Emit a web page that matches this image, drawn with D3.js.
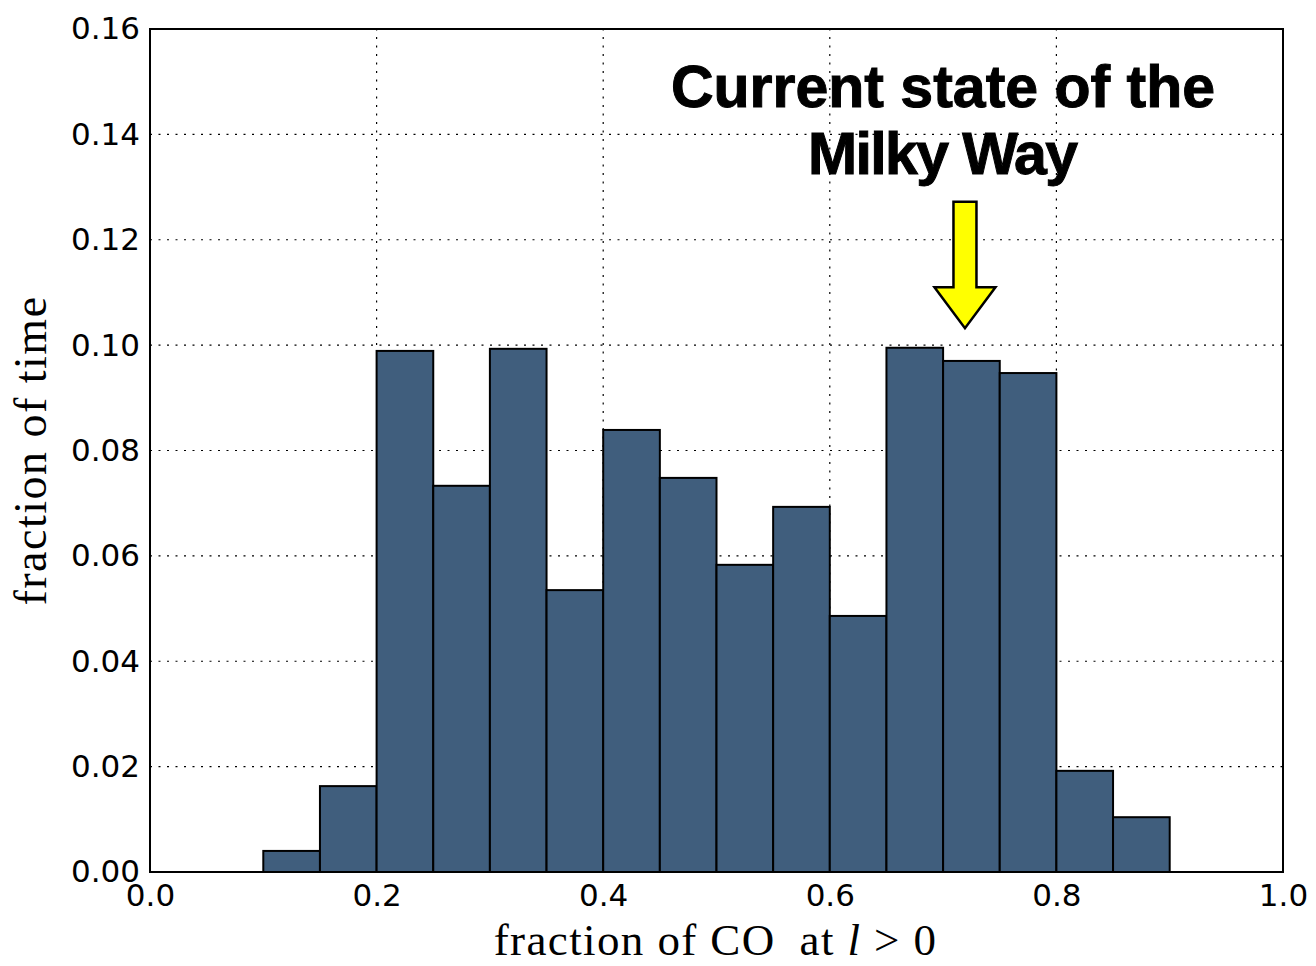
<!DOCTYPE html>
<html>
<head>
<meta charset="utf-8">
<script src="https://cdn.jsdelivr.net/npm/d3@7"></script>
<style>
  html, body { margin: 0; padding: 0; background: #fff; }
  svg { display: block; }
</style>
</head>
<body>
<svg id="chart" width="1316" height="966"></svg>
<script>
// Histogram bins (left edges, width 0.05) and the fraction of time in each
const binStarts = [0.10, 0.15, 0.20, 0.25, 0.30, 0.35, 0.40, 0.45, 0.50, 0.55, 0.60, 0.65, 0.70, 0.75, 0.80, 0.85];
const binWidth = 0.05;
const fractions = [0.0040, 0.0163, 0.0989, 0.0733, 0.0993, 0.0535, 0.0839, 0.0748, 0.0583, 0.0693, 0.0486, 0.0995, 0.0970, 0.0947, 0.0192, 0.0104];

const xTicks = [0.0, 0.2, 0.4, 0.6, 0.8, 1.0];
const yTicks = [0.00, 0.02, 0.04, 0.06, 0.08, 0.10, 0.12, 0.14, 0.16];

// Annotation: text lines and arrow (data coordinates)
const noteLines = ["Current state of the", "Milky Way"];
const arrowTip = [0.7193, 0.1032];
const arrowTail = [0.7193, 0.1272];

const margin = { left: 150, top: 29, right: 33, bottom: 94 };
const W = 1316, H = 966;
const svg = d3.select("#chart");

const x = d3.scaleLinear().domain([0, 1]).range([margin.left, W - margin.right]);
const y = d3.scaleLinear().domain([0, 0.16]).range([H - margin.bottom, margin.top]);

// Grid lines
const grid = svg.append("g").attr("stroke", "#000").attr("stroke-width", 1.2)
  .attr("stroke-dasharray", "2,6.5");
grid.selectAll("line.gx").data(xTicks.slice(1, -1)).join("line")
  .attr("x1", d => x(d)).attr("x2", d => x(d))
  .attr("y1", y(0)).attr("y2", y(0.16));
grid.selectAll("line.gy").data(yTicks.slice(1, -1)).join("line")
  .attr("x1", x(0)).attr("x2", x(1))
  .attr("y1", d => y(d)).attr("y2", d => y(d));

// Bars
svg.append("g").selectAll("rect").data(binStarts).join("rect")
  .attr("x", d => x(d))
  .attr("width", d => x(d + binWidth) - x(d))
  .attr("y", (d, i) => y(fractions[i]))
  .attr("height", (d, i) => y(0) - y(fractions[i]))
  .attr("fill", "#405e7d")
  .attr("stroke", "#000")
  .attr("stroke-width", 2);

// Frame
svg.append("rect")
  .attr("x", x(0)).attr("y", y(0.16))
  .attr("width", x(1) - x(0)).attr("height", y(0) - y(0.16))
  .attr("fill", "none").attr("stroke", "#000").attr("stroke-width", 2);

// Tick labels
const tickFont = "'DejaVu Sans', sans-serif";
const xAxis = d3.axisBottom(x).tickValues(xTicks).tickFormat(d3.format(".1f")).tickSize(0).tickPadding(12);
const xg = svg.append("g").attr("transform", `translate(0,${y(0)})`).call(xAxis);
const yAxis = d3.axisLeft(y).tickValues(yTicks).tickFormat(d3.format(".2f")).tickSize(0).tickPadding(10);
const yg = svg.append("g").attr("transform", `translate(${x(0)},0)`).call(yAxis);
[xg, yg].forEach(g => {
  g.select(".domain").remove();
  g.selectAll("text").attr("font-family", tickFont).attr("font-size", 31).attr("fill", "#000");
});

// Axis titles
const serif = "'Liberation Serif', 'DejaVu Serif', serif";
const xl = svg.append("text")
  .attr("x", (x(0) + x(1)) / 2 - 1).attr("y", 955)
  .attr("text-anchor", "middle")
  .attr("font-family", serif).attr("font-size", 45).attr("letter-spacing", 1.4)
  .attr("fill", "#000");
xl.append("tspan").text("fraction of CO\u2002at ");
xl.append("tspan").attr("font-style", "italic").text("l");
xl.append("tspan").text(" > 0");

svg.append("text")
  .attr("transform", `translate(46,${(y(0) + y(0.16)) / 2}) rotate(-90)`)
  .attr("text-anchor", "middle")
  .attr("font-family", serif).attr("font-size", 46).attr("letter-spacing", 1.5)
  .attr("fill", "#000")
  .text("fraction of time");

// Annotation text
const note = svg.append("g")
  .attr("font-family", "'Liberation Sans', Arial, sans-serif")
  .attr("font-weight", "bold").attr("font-size", 59)
  .attr("fill", "#000").attr("stroke", "#000").attr("stroke-width", 1)
  .attr("text-anchor", "middle");
note.selectAll("text").data(noteLines).join("text")
  .attr("x", 943)
  .attr("y", (d, i) => 107 + i * 67)
  .attr("textLength", (d, i) => i === 1 ? 270 : null)
  .text(d => d);

// Annotation arrow (block arrow pointing down)
const tx = x(arrowTip[0]), ty = y(arrowTip[1]);
const topY = y(arrowTail[1]);
const shaftHalf = 11.5, headHalf = 30.5, headLen = 41;
const arrowPts = [
  [tx - shaftHalf, topY], [tx + shaftHalf, topY],
  [tx + shaftHalf, ty - headLen], [tx + headHalf, ty - headLen],
  [tx, ty],
  [tx - headHalf, ty - headLen], [tx - shaftHalf, ty - headLen]
];
svg.append("path")
  .attr("d", d3.line()(arrowPts) + "Z")
  .attr("fill", "#ffff00").attr("stroke", "#000").attr("stroke-width", 2.5)
  .attr("stroke-linejoin", "miter");
</script>
</body>
</html>
